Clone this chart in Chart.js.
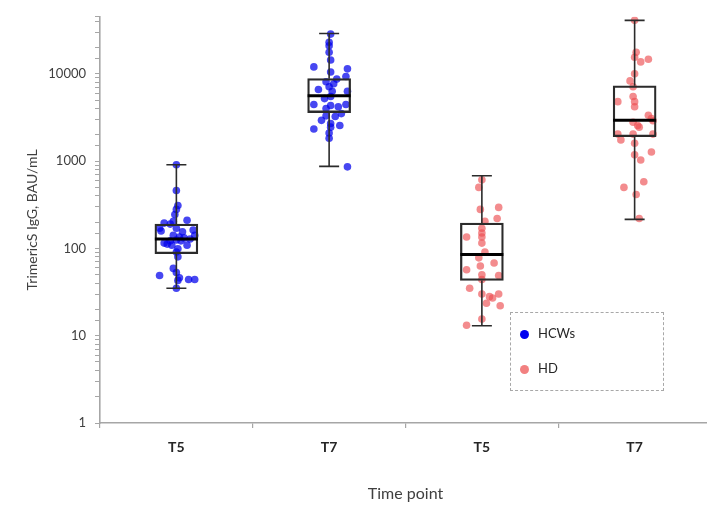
<!DOCTYPE html>
<html>
<head>
<meta charset="utf-8">
<script src="https://cdn.jsdelivr.net/npm/chart.js@4.4.1/dist/chart.umd.min.js"></script>
<style>
    body{margin:0;background:#fff;}
    #wrap{position:relative;width:707px;height:508px;overflow:hidden;}
    #legend{position:absolute;left:510px;top:312px;width:152px;height:77px;border:1.5px dashed #a8a8a8;
        font-family:Lato,'Liberation Sans',sans-serif;font-size:13px;color:#262626;}
    #legend div{position:absolute;left:9px;height:16px;line-height:16px;}
    #legend span{display:inline-block;width:9px;height:9px;border-radius:50%;margin-right:9px;vertical-align:-1px;}
</style>
</head>
<body>
<div id="wrap">
    <!-- plot runs slightly past the right edge like in the original figure -->
    <canvas id="canvas" width="715" height="508"></canvas>
    <div id="legend"></div>
</div>
<script>
// categories / groups
var labels = ['T5', 'T7', 'T5', 'T7'];
var groupName = ['HCWs', 'HCWs', 'HD', 'HD'];
var seriesNames = ['HCWs', 'HD'];
var seriesColors = ['rgba(0,0,235,0.72)', 'rgba(236,78,82,0.65)'];
var legendColors = ['#0000f0', '#f28080'];
var yTickLabels = [1, 10, 100, 1000, 10000];

// box stats (BAU/mL)
var whiskerLow = [35, 870, 13, 215];
var q1 = [87, 3600, 43, 1900];
var median = [128, 5600, 85, 2930];
var q3 = [190, 8800, 195, 7300];
var whiskerHigh = [910, 29000, 680, 41000];

// individual points: x = jitter around category, y = value
var ptsHcwT5 = [[0,910],[0,460],[0.01,310],[0,280],[-0.01,245],[-0.02,205],[-0.04,190],[-0.08,195],[0.07,210],
    [-0.11,170],[-0.10,158],[0,170],[0.04,155],[0.11,162],[0.12,141],[-0.02,141],[0.02,135],[0.05,132],[0.09,128],
    [0,125],[-0.04,122],[0.03,122],[-0.06,112],[-0.08,115],[-0.03,109],[0.07,109],[0.01,99],[0,91],[0.01,80],
    [-0.02,59],[0,53],[-0.11,49],[0.02,46],[0.01,43],[0.08,44],[0.12,44],[0,35]];
var ptsHcwT7 = [[0.01,28500],[0,23000],[0,21000],[0,17700],[0.01,14400],[-0.10,12000],[0.12,11400],[0.01,10500],
    [0.05,8700],[0.11,9300],[-0.02,8100],[0.03,7700],[-0.07,6600],[0,7100],[0.12,6300],[0.02,6300],[0.01,5500],
    [-0.03,5200],[-0.10,4450],[0.11,4450],[0.01,4330],[-0.02,4000],[0.06,4200],[-0.02,3300],[0.04,3250],[0.08,3500],
    [-0.05,2930],[0.01,2700],[0.07,2560],[-0.10,2330],[0.01,2450],[0,2100],[0,1830],[0.12,860]];
var ptsHdT5 = [[0,610],[-0.02,500],[-0.01,280],[0.11,295],[0.10,220],[0.02,205],[0,170],[0,150],[-0.10,135],
    [0,135],[0,115],[0.02,91],[-0.02,78],[0.08,68],[-0.10,57],[-0.01,63],[0,50],[0.11,49],[0,44],[-0.08,35],
    [0,30],[0.05,28],[0.07,27],[0.11,30],[0.03,23.5],[0.12,22],[0,15.5],[-0.10,13.2]];
var ptsHdT7 = [[0,41000],[0.01,17700],[0,15500],[0.04,13700],[0.09,14700],[0,10000],[-0.03,8300],[-0.01,7100],
    [-0.11,4800],[-0.01,5500],[0,4800],[0,4200],[0.09,3350],[0.11,3070],[-0.01,2790],[0.02,2560],[0.03,2450],
    [0.12,2900],[-0.01,2040],[-0.11,2040],[-0.09,1750],[0.12,2040],[0,1600],[0,1180],[0.11,1270],[0.04,1030],
    [0.06,580],[-0.07,500],[0.01,415],[0.03,220]];
var points = [ptsHcwT5, ptsHcwT7, ptsHdT5, ptsHdT7];

var font = "Lato, 'Liberation Sans', sans-serif";

// scatter datasets, one per box
var datasets = points.map(function (pts, i) {
    let s = seriesNames.indexOf(groupName[i]);
    return {
        type: 'scatter',
        xAxisID: 'xs',
        yAxisID: 'y',
        order: 2,
        data: pts.map(p => ({x: i + p[0], y: p[1]})),
        backgroundColor: seriesColors[s],
        borderWidth: 0,
        pointRadius: 3.8
    };
});
// boxes q1..q3 as floating bars
datasets.push({
    type: 'bar',
    xAxisID: 'x',
    yAxisID: 'y',
    order: 0,
    grouped: false,
    data: q1.map((v, i) => [v, q3[i]]),
    backgroundColor: 'rgba(0,0,0,0)',
    borderColor: '#2b2b2b',
    borderWidth: 1.6,
    borderSkipped: false,
    barThickness: 43
});

// whiskers, caps and median lines
var boxExtras = {
    id: 'boxExtras',
    afterDatasetsDraw(chart) {
        let ctx = chart.ctx, xs = chart.scales.x, ys = chart.scales.y;
        ctx.save();
        labels.forEach(function (l, i) {
            let cx = xs.getPixelForValue(i);
            let yLo = ys.getPixelForValue(whiskerLow[i]), yHi = ys.getPixelForValue(whiskerHigh[i]);
            let yQ1 = ys.getPixelForValue(q1[i]), yQ3 = ys.getPixelForValue(q3[i]);
            ctx.strokeStyle = '#2b2b2b';
            ctx.lineWidth = 1.6;
            ctx.beginPath();
            ctx.moveTo(cx, yHi); ctx.lineTo(cx, yQ3);
            ctx.moveTo(cx, yQ1); ctx.lineTo(cx, yLo);
            ctx.moveTo(cx - 10, yHi); ctx.lineTo(cx + 10, yHi);
            ctx.moveTo(cx - 10, yLo); ctx.lineTo(cx + 10, yLo);
            ctx.stroke();
            let ym = ys.getPixelForValue(median[i]);
            ctx.lineWidth = 3;
            ctx.strokeStyle = '#000';
            ctx.beginPath();
            ctx.moveTo(cx - 21.5, ym); ctx.lineTo(cx + 21.5, ym);
            ctx.stroke();
        });
        ctx.restore();
    }
};

new Chart(document.getElementById('canvas'), {
    type: 'bar',
    data: {labels: labels, datasets: datasets},
    plugins: [boxExtras],
    options: {
        responsive: false,
        animation: false,
        layout: {padding: {top: 12, right: 0, left: 0, bottom: 0}},
        plugins: {legend: {display: false}, tooltip: {enabled: false}},
        scales: {
            x: {
                type: 'category',
                offset: true,
                afterFit: s => { s.height = 85; },
                grid: {offset: true, drawOnChartArea: false, tickLength: 5, color: '#a6a6a6', lineWidth: 1.2},
                border: {color: '#a6a6a6', width: 1.6},
                ticks: {color: '#262626', padding: 11, font: {family: font, size: 14, weight: 'bold'}},
                title: {display: true, text: 'Time point', color: '#404040', padding: {top: 0, bottom: 5},
                    font: {family: font, size: 16}}
            },
            xs: {type: 'linear', display: false, offset: false, min: -0.5, max: 3.5},
            y: {
                type: 'logarithmic',
                min: 1,
                max: 45000,
                afterFit: s => { s.width = 100; },
                grid: {drawOnChartArea: false, tickLength: 5, color: '#a6a6a6', lineWidth: 1},
                border: {color: '#a6a6a6', width: 1.6},
                ticks: {
                    autoSkip: false,
                    color: '#404040',
                    padding: 9,
                    font: {family: font, size: 13},
                    callback: v => yTickLabels.indexOf(v) >= 0 ? String(v) : ''
                },
                title: {display: true, text: 'TrimericS IgG, BAU/mL', color: '#404040', padding: {top: 24, bottom: 0},
                    font: {family: font, size: 14}}
            }
        }
    }
});

// legend box
var str = '';
seriesNames.forEach(function (n, i) {
    str += `<div style="top:${12 + i * 35}px"><span style="background:${legendColors[i]}"></span>${n}</div>`;
});
document.getElementById('legend').innerHTML = str;
</script>
</body>
</html>
